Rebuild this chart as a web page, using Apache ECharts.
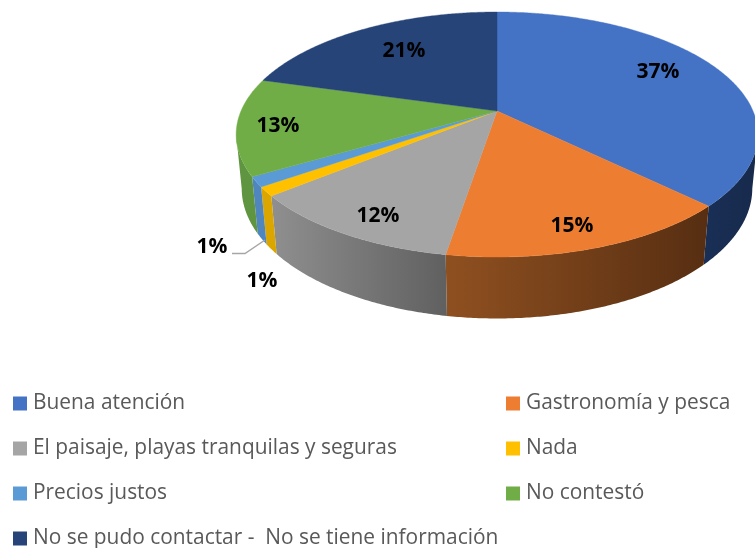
<!DOCTYPE html>
<html>
<head>
<meta charset="utf-8">
<style>html,body{margin:0;padding:0;background:#fff}#c{width:755px;height:548px}</style>
<script src="https://cdn.jsdelivr.net/npm/echarts@6/dist/echarts.min.js"></script>
</head>
<body>
<div id="c"></div>
<script>
const categories = ['Buena atención','Gastronomía y pesca','El paisaje, playas tranquilas y seguras','Nada','Precios justos','No contestó','No se pudo contactar -  No se tiene información'];
const shares = [37.3,15.3,11.5,1.2,1.3,12.8,20.6];
const topColors = ['#4472c4','#ed7d31','#a5a5a5','#ffc000','#5b9bd5','#70ad47','#264478'];
const sideLeft  = ['#1a2f56','#8f5020','#8f8f8f','#dba600','#4f86bd','#5f9440','#182c4e'];
const sideRight = ['#172a4c','#572e12','#606060','#dba600','#4f86bd','#5f9440','#182c4e'];
const labelAnchors = [[658,72],[572,226],[378,216],[262,281],[212,247],[278,126],[404,51]];
const leftLegend = [0,2,4,6].map(i=>categories[i]);
const rightLegend = [1,3,5].map(i=>categories[i]);

const CX=497, CY=111, RX=256, RY=118, K=0.192, M=0.021, H=54;
function project(theta, z){
  const X=Math.sin(theta), Y=-Math.cos(theta), w=1-K*Y+M*z;
  return [CX+RX*X/w, CY+(RY*Y+H*z)/w];
}
function arc(a,b,z){
  const pts=[], n=Math.max(2,Math.ceil(Math.abs(b-a)/(Math.PI/360)));
  for(let i=0;i<=n;i++) pts.push(project(a+(b-a)*i/n,z));
  return pts;
}
const total=shares.reduce((s,v)=>s+v,0);
const VIS_A=101*Math.PI/180, VIS_B=259*Math.PI/180;

function makeRender(idx){
  const before=shares.slice(0,idx).reduce((s,v)=>s+v,0);
  return function(params,api){
    const val=api.value(0);
    const a=before/total*2*Math.PI, b=(before+val)/total*2*Math.PI;
    const children=[];
    const sa=Math.max(a,VIS_A), sb=Math.min(b,VIS_B);
    if(sb>sa){
      const pts=arc(sa,sb,0).concat(arc(sb,sa,1));
      children.push({type:'polygon',z2:1,shape:{points:pts},style:{
        fill:{type:'linear',x:0,y:0,x2:1,y2:0,colorStops:[
          {offset:0,color:sideLeft[idx]},
          {offset:1,color:sideRight[idx]}]},
        stroke:null}});
    }
    const top=[[CX,CY]].concat(arc(a,b,0));
    children.push({type:'polygon',z2:2,shape:{points:top},style:{fill:topColors[idx],stroke:topColors[idx],lineWidth:0.4}});
    if(idx===4){
      children.push({type:'polyline',z2:3,shape:{points:[[232,253.5],[245,253.5],[265,240]]},style:{stroke:'#a6a6a6',lineWidth:1.5,fill:null}});
    }
    const p=labelAnchors[idx];
    children.push({type:'text',z2:4,x:p[0],y:p[1],style:{
      text:Math.round(val)+'%',fill:'#000',font:'bold 21px "Open Sans", sans-serif',align:'center',verticalAlign:'middle'}});
    return {type:'group',children};
  };
}
const series=categories.map((name,i)=>({
  name,type:'custom',coordinateSystem:'none',silent:true,animation:false,
  itemStyle:{color:topColors[i]},
  data:[[shares[i]]],
  renderItem:makeRender(i)
}));
const legendBase={orient:'vertical',icon:'rect',itemWidth:14,itemHeight:14,itemGap:24,selectedMode:false,height:300,
  textStyle:{color:'#595959',fontSize:20.9,fontFamily:'"Open Sans", sans-serif',padding:[0,0,0,1]},padding:0};
const chart=echarts.init(document.getElementById('c'),null,{renderer:'canvas'});
chart.setOption({
  backgroundColor:'#fff',animation:false,
  legend:[
    Object.assign({},legendBase,{left:13,top:393,data:leftLegend}),
    Object.assign({},legendBase,{left:506,top:393,data:rightLegend})
  ],
  series
});
</script>
</body>
</html>
